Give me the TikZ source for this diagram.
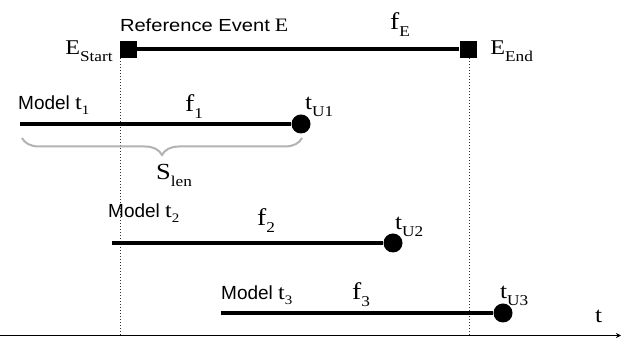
\documentclass[tikz,border=0pt]{standalone}
\usepackage{fontspec}
\setmainfont[FakeStretch=1.15]{Liberation Serif}
\setsansfont{Liberation Sans}
\usepackage{tikz}
\usetikzlibrary{arrows.meta, positioning, decorations.pathreplacing}
\newcommand{\lo}[1]{\raisebox{-7pt}{\fontsize{15}{15}\selectfont #1}}
\newcommand{\lot}[1]{\raisebox{-5pt}{\fontsize{13}{13}\selectfont #1}}
\newcommand{\mdl}[1]{Model {\rmfamily\fontsize{21}{21}\selectfont t\lot{#1}}}
\tikzset{
  evbox/.style={rectangle, fill=black, minimum size=17pt, inner sep=0pt},
  enddot/.style={circle, fill=black, minimum size=19pt, inner sep=0pt},
  timebar/.style={line width=4pt, draw=black},
  guide/.style={dotted, line width=1pt, draw=black!80},
  lbl/.style={font=\fontsize{21}{21}\selectfont, inner sep=0pt, anchor=base west},
  flbl/.style={lbl, font=\fontsize{24}{24}\selectfont},
  tlbl/.style={lbl, font=\fontsize{22}{22}\selectfont},
  sflbl/.style={font=\sffamily\fontsize{19}{19}\selectfont, inner sep=0pt, anchor=base west},
  bracket/.style={decorate, decoration={brace, mirror, amplitude=17pt}, draw=black!30, line width=2pt},
  axis/.style={-{Stealth[length=5pt, width=5pt]}, line width=1.2pt}
}

\begin{document}
\begin{tikzpicture}[x=1pt, y=1pt]
  \useasboundingbox (0,0) rectangle (621,339);

  % time axis
  \coordinate (o) at (0,3.5);
  \coordinate (tend) at (621,3.5);
  \draw[axis] (o) -- (tend);
  \node[tlbl] (tlabel) at (595,16) {t};

  % reference event
  \node[evbox] (es) at (128.5,289.5) {};
  \node[evbox] (ee) at (468,289.5) {};
  \draw[timebar] (es) -- (ee);
  \node[sflbl, font=\sffamily\fontsize{17.5}{17.5}\selectfont] (refname) at ([yshift=9pt]es.north west)
    {\scalebox{1.15}[1]{Reference Event} {\rmfamily\fontsize{19}{19}\selectfont E}};
  \node[lbl, anchor=base east] (estart) at ([xshift=-7pt, yshift=-5.5pt]es.west) {E\lo{Start}};
  \node[lbl] (eend) at ([xshift=13.5pt, yshift=-5.5pt]ee.east) {E\lo{End}};
  \node[flbl] (fe) at (390,309) {f\lo{E}};
  \draw[guide] ([xshift=1pt]es.south west) -- ([xshift=1pt]es.south west |- o);
  \draw[guide] ([xshift=1pt]ee.south) -- ([xshift=1pt]ee.south |- o);

  % model t1
  \coordinate (m1) at (20,215);
  \node[enddot] (u1) at (301,215) {};
  \draw[timebar] (m1) -- (u1);
  \node[sflbl] (lab1) at ([xshift=-2pt, yshift=14pt]m1) {\mdl{1}};
  \node[flbl] (f1) at (185,227) {f\lo{1}};
  \node[tlbl] (tu1) at ([xshift=4pt, yshift=14pt]u1.center) {t\lo{U1}};
  \draw[bracket] ([xshift=2pt, yshift=-14pt]m1) -- ([xshift=1pt, yshift=-14pt]u1.center);
  \node[lbl, font=\fontsize{23}{23}\selectfont] (slen) at (156,159) {S\lo{len}};

  % model t2
  \coordinate (m2) at (112,96);
  \node[enddot] (u2) at (393,96) {};
  \draw[timebar] (m2) -- (u2);
  \node[sflbl] (lab2) at ([xshift=-4pt, yshift=25pt]m2) {\mdl{2}};
  \node[flbl] (f2) at (257,113) {f\lo{2}};
  \node[tlbl] (tu2) at ([xshift=2pt, yshift=13pt]u2.center) {t\lo{U2}};

  % model t3
  \coordinate (m3) at (221,26);
  \node[enddot] (u3) at (503,26) {};
  \draw[timebar] (m3) -- (u3);
  \node[sflbl] (lab3) at ([yshift=13pt]m3) {\mdl{3}};
  \node[flbl] (f3) at (352,39) {f\lo{3}};
  \node[tlbl] (tu3) at ([xshift=-3pt, yshift=14pt]u3.center) {t\lo{U3}};
\end{tikzpicture}
\end{document}
